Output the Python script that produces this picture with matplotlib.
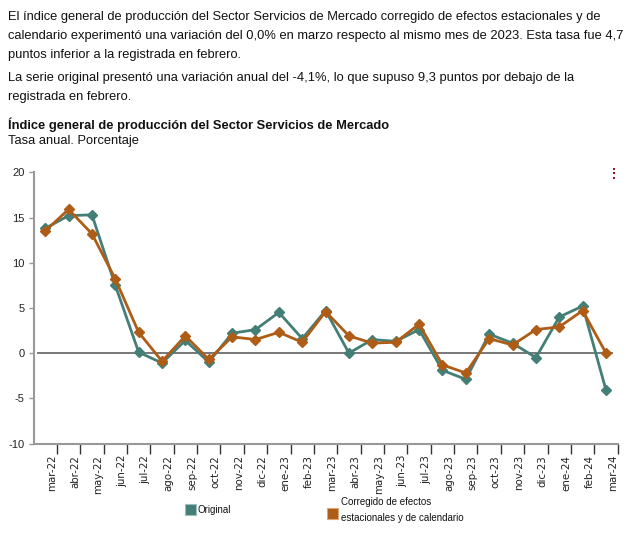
import matplotlib.pyplot as plt
from matplotlib.patches import Rectangle
from matplotlib.lines import Line2D

months = ["mar-22", "abr-22", "may-22", "jun-22", "jul-22", "ago-22", "sep-22",
          "oct-22", "nov-22", "dic-22", "ene-23", "feb-23", "mar-23", "abr-23",
          "may-23", "jun-23", "jul-23", "ago-23", "sep-23", "oct-23", "nov-23",
          "dic-23", "ene-24", "feb-24", "mar-24"]
original = [13.8, 15.2, 15.3, 7.5, 0.1, -1.1, 1.4, -1.0, 2.2, 2.6, 4.5, 1.6, 4.7,
            0.0, 1.5, 1.3, 2.6, -1.9, -2.9, 2.1, 1.1, -0.5, 4.0, 5.2, -4.1]
corregido = [13.5, 15.9, 13.2, 8.2, 2.3, -0.9, 1.9, -0.7, 1.8, 1.5, 2.3, 1.2, 4.6,
             1.9, 1.1, 1.2, 3.2, -1.3, -2.2, 1.6, 0.9, 2.6, 2.9, 4.7, 0.0]
y_ticks = [-10, -5, 0, 5, 10, 15, 20]

col_orig = "#437f76"
col_corr = "#ae5c16"
axis_col = "#999999"

W, H = 640, 535
fig = plt.figure(figsize=(W / 100, H / 100), dpi=100)


def fx(px):
    return px / W


def fy(py):
    return 1 - py / H


ax = fig.add_axes([fx(33.5), fy(443.5), fx(617.7) - fx(33.5), fy(172.3) - fy(443.5)])

x = list(range(len(months)))
ax.plot(x, original, color=col_orig, lw=2, marker="D", ms=5.5, zorder=3)
ax.plot(x, corregido, color=col_corr, lw=2, marker="D", ms=5.5, zorder=4)
ax.axhline(0, xmin=0.007, xmax=0.99, color="#777777", lw=1.4, zorder=2)

ax.set_xlim(-0.5, len(months) - 0.5)
ax.set_ylim(-10, 20)
ax.set_yticks(y_ticks)
ax.set_yticklabels([str(v) for v in y_ticks], fontsize=8, family="Liberation Sans",
                   color="#222222")

# ticks on category boundaries, labels just left of each tick
ax.set_xticks([i + 0.5 for i in x])
ax.set_xticklabels(months, rotation=90, ha="right", va="top", fontsize=7.4,
                   family="DejaVu Sans", color="#222222")
ax.tick_params(axis="x", length=7.2, color="#333333", width=1, pad=1)
ax.tick_params(axis="y", length=3.6, color=axis_col, width=1, pad=3)

for s in ["top", "right"]:
    ax.spines[s].set_visible(False)
for s in ["left", "bottom"]:
    ax.spines[s].set_color(axis_col)
    ax.spines[s].set_linewidth(1.5)

# header text
para = dict(fontsize=9.3, family="Liberation Sans", color="#111111", va="center")
fig.text(fx(8), fy(17), "El índice general de producción del Sector Servicios de Mercado "
         "corregido de efectos estacionales y de", **para)
fig.text(fx(8), fy(36), "calendario experimentó una variación del 0,0% en marzo respecto al "
         "mismo mes de 2023. Esta tasa fue 4,7", **para)
fig.text(fx(8), fy(55), "puntos inferior a la registrada en febrero.", **para)
fig.text(fx(8), fy(78), "La serie original presentó una variación anual del -4,1%, lo que "
         "supuso 9,3 puntos por debajo de la", **para)
fig.text(fx(8), fy(97), "registrada en febrero.", **para)
fig.text(fx(8), fy(125), "Índice general de producción del Sector Servicios de Mercado",
         fontsize=9.3, family="Liberation Sans", weight="bold", color="#111111",
         va="center")
fig.text(fx(8), fy(141), "Tasa anual. Porcentaje", **para)

# legend
fig.add_artist(Rectangle((fx(185), fy(515)), fx(10.5), fy(504) - fy(515),
                         transform=fig.transFigure, facecolor=col_orig,
                         edgecolor="#9cbfb9", lw=0.8))
fig.text(fx(198), fy(510), "Original", fontsize=7, family="Liberation Sans",
         color="#111111", va="center")
fig.add_artist(Rectangle((fx(327), fy(519)), fx(11), fy(508) - fy(519),
                         transform=fig.transFigure, facecolor=col_corr,
                         edgecolor="#d9a77a", lw=0.8))
fig.text(fx(341), fy(502), "Corregido de efectos", fontsize=7, family="Liberation Sans",
         color="#111111", va="center")
fig.text(fx(341), fy(518), "estacionales y de calendario", fontsize=7,
         family="Liberation Sans", color="#111111", va="center")

# menu dots
fig.add_artist(Line2D([fx(614)] * 3, [fy(169), fy(173.3), fy(177.6)],
                      transform=fig.transFigure, ls="none", marker="s", ms=2.0,
                      mew=0, color="#a3142c"))

fig.savefig("out.png", dpi=100)
